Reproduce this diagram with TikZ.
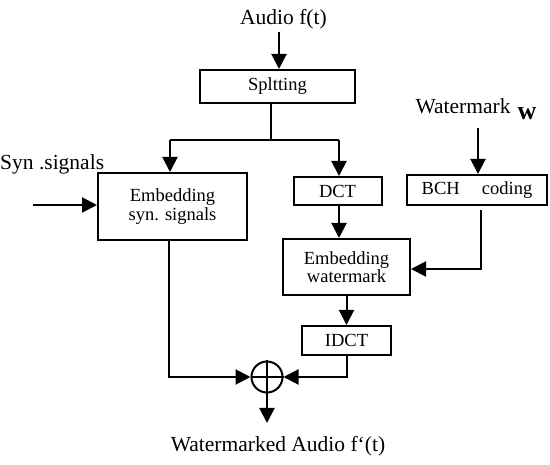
\documentclass[tikz,border=0pt]{standalone}
\usepackage{fontspec}
\setmainfont{Liberation Serif}
\usetikzlibrary{arrows.meta,calc}
\begin{document}
\begin{tikzpicture}[x=1pt,y=-1pt,
  box/.style={draw,line width=2pt,inner sep=0pt,align=center,font=\fontsize{18.5}{20.5}\selectfont},
  lbl/.style={inner sep=0pt,anchor=base,font=\fontsize{21.5}{23}\selectfont},
  ln/.style={line width=2pt},
  arr/.style={line width=2pt,-{Triangle[length=15pt,width=15pt]}}]
\useasboundingbox (0,0) rectangle (550,465);
% labels
\node[lbl] (audio) at (283.5,25) {Audio f(t)};
\node[lbl,anchor=base west] (syn) at (0,170) {Syn .signals};
\node[lbl,font=\fontsize{21.5}{23}\selectfont] (wm) at (463,114) {Watermark};
\node[lbl,font=\fontsize{26}{28}\selectfont\bfseries] (wmw) at (527,120) {w};
\node[lbl] (out) at (278,452) {Watermarked Audio f‘(t)};
% boxes
\node[box,minimum width=155pt,minimum height=33pt] (split) at (277.5,86.5) {Spltting};
\node[box,minimum width=149pt,minimum height=67pt] (emsyn) at (172.5,206.5) {Embedding\\[-2pt]syn. signals};
\node[box,minimum width=88pt,minimum height=28pt] (dct) at (337.5,191) {DCT};
\node[box,minimum width=140pt,minimum height=30pt] (bch) at (477,190) {BCH\hspace{1.2em}coding};
\node[box,minimum width=127pt,minimum height=56pt] (emwm) at (346.5,267) {Embedding\\[-2pt]watermark};
\node[box,minimum width=89pt,minimum height=29pt] (idct) at (346.5,340.5) {IDCT};
\node[draw,circle,line width=2pt,minimum size=31pt,inner sep=0pt] (sum) at (267,377) {};
\draw[ln] (sum.north) -- (sum.south) (sum.west) -- (sum.east);
% junctions
\coordinate (aud) at (279,32);
\coordinate (js) at (271,140);
\coordinate (jl) at (170,140);
\coordinate (jr) at (339,140);
\coordinate (synin) at (33,205);
\coordinate (wmtop) at (478,128);
\coordinate (bchout) at (481,210);
\coordinate (bchc) at (481,269);
\coordinate (outend) at (267,423);
% connectors
\draw[arr] (aud) -- (aud |- split.north);
\draw[ln] (js |- split.south) -- (js);
\draw[ln] (jl) -- (jr);
\draw[arr] (jl) -- (jl |- emsyn.north);
\draw[arr] (jr) -- (jr |- dct.north);
\draw[arr] (synin) -- (synin -| emsyn.west);
\draw[arr] (wmtop) -- (wmtop |- bch.north);
\draw[arr] (bchout) -- (bchc) -- (bchc -| emwm.east);
\draw[arr] (jr |- dct.south) -- (jr |- emwm.north);
\draw[arr] (emwm.south) -- (idct.north);
\draw[arr] (emsyn.south -| 169,0) |- (sum.west);
\draw[arr] (idct.south) |- (sum.east);
\draw[arr] (sum.south) -- (outend);
\end{tikzpicture}
\end{document}
